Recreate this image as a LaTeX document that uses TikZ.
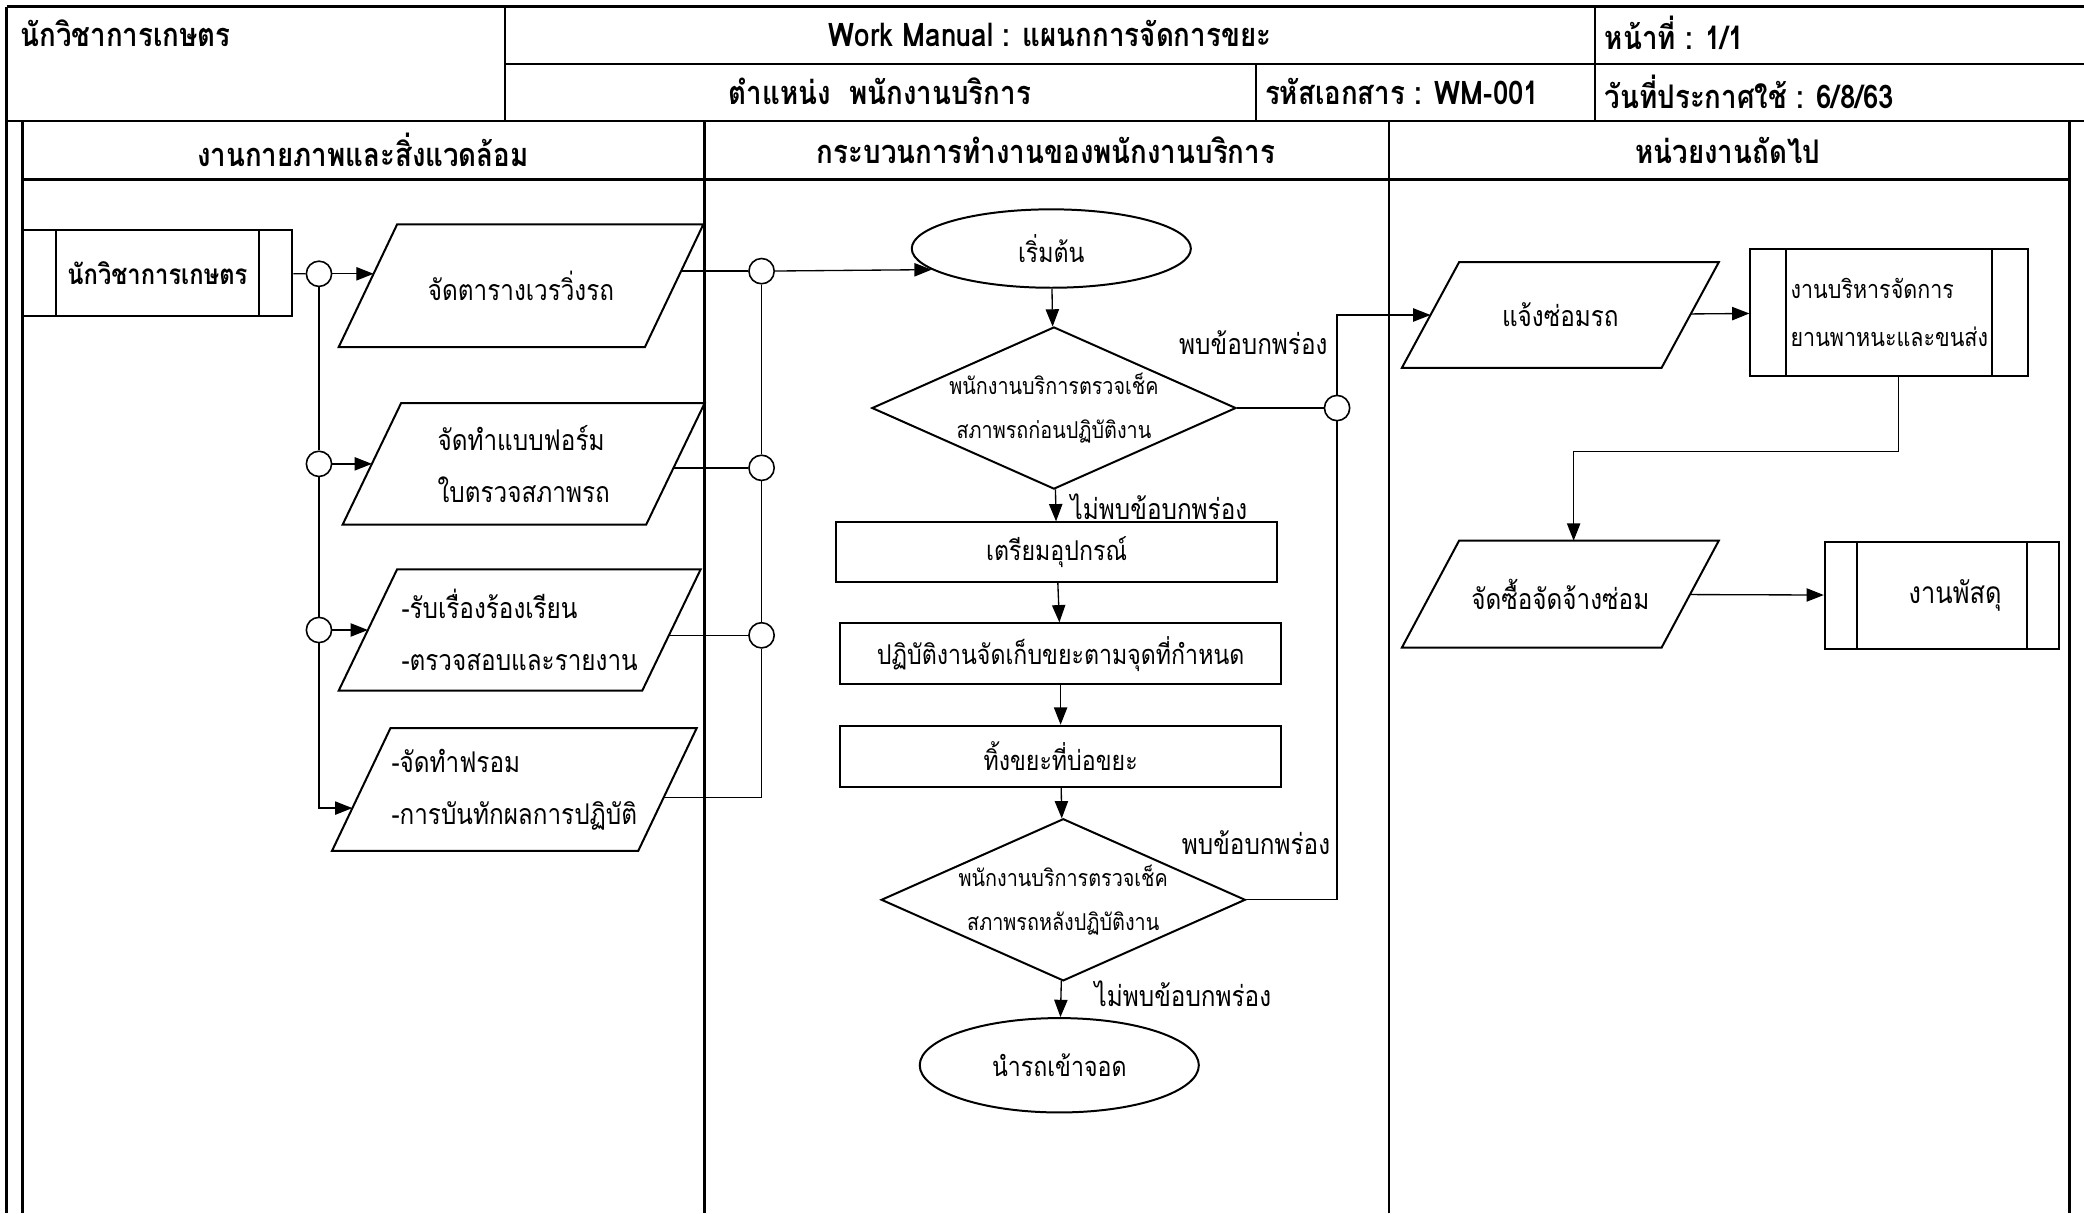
\documentclass[tikz,border=0pt]{standalone}
\usepackage{fontspec}
\setmainfont{Loma}[Script=Thai, FakeStretch=0.85]
\usetikzlibrary{
    arrows.meta,
    shapes.geometric,
    calc
}

\begin{document}
\begin{tikzpicture}[
    x=1pt, y=-1pt,
    frame/.style={line width=1.8pt},
    lanetitle/.style={font=\fontsize{24.5}{26}\selectfont\bfseries},
    headtext/.style={font=\fontsize{24.5}{26}\selectfont\bfseries},
    data/.style={rectangle, inner sep=1pt, align=left, font=\fontsize{21.5}{39}\selectfont,
        append after command={\pgfextra{\draw[line width=1.5pt]
            ([xshift=#1]\tikzlastnode.north west) -- ([xshift=#1]\tikzlastnode.north east)
            -- ([xshift=-#1]\tikzlastnode.south east) -- ([xshift=-#1]\tikzlastnode.south west) -- cycle;}}},
    data/.default=22pt,
    process/.style={rectangle, draw, line width=1.5pt, minimum width=332pt, font=\fontsize{20.5}{22}\selectfont},
    subproc/.style={rectangle, draw, line width=1.5pt, align=left, font=\fontsize{19}{36}\selectfont,
        path picture={\draw[line width=1.5pt]
            ([xshift=#1]path picture bounding box.north west) -- ([xshift=#1]path picture bounding box.south west)
            ([xshift=-#1]path picture bounding box.north east) -- ([xshift=-#1]path picture bounding box.south east);}},
    subproc/.default=25pt,
    decision/.style={diamond, draw, line width=1.5pt, aspect=2.25, minimum width=274pt, minimum height=122pt,
        inner sep=-8pt, align=center, font=\fontsize{17.5}{33}\selectfont},
    terminal/.style={ellipse, draw, line width=1.5pt, minimum width=210pt, font=\fontsize{20.5}{22}\selectfont},
    junction/.style={ellipse, draw, line width=1.2pt, fill=white, minimum width=19pt, minimum height=19pt, inner sep=0pt},
    note/.style={font=\fontsize{21.5}{24}\selectfont},
    line/.style={line width=1pt},
    arrow/.style={line width=1pt, -{Triangle[length=13pt, width=10pt]}}
]
\useasboundingbox (0,0) rectangle (1568,913);

% === HEADER ===
\draw[frame] (5,5) -- (1568,5);
\draw[frame] (380,48) -- (1568,48);
\draw[frame] (5,91) -- (1568,91);
\draw[frame] (5,5) -- (5,913);
\draw[frame] (380,5) -- (380,91);
\draw[frame] (1200,5) -- (1200,91);
\draw[frame] (945,48) -- (945,91);

\node[headtext, anchor=west] (hdept) at (12,25) {นักวิชาการเกษตร};
\node[headtext] (htitle) at (790,25) {Work Manual : แผนกการจัดการขยะ};
\node[headtext, anchor=west] (hpage) at (1204,25) {หน้าที่ : 1/1};
\node[headtext] (hpos) at (662,69) {ตำแหน่ง\ \ พนักงานบริการ};
\node[headtext] (hcode) at (1055,69) {รหัสเอกสาร : WM-001};
\node[headtext, anchor=west] (hdate) at (1204,69) {วันที่ประกาศใช้ : 6/8/63};

% === SWIMLANES ===
\draw[frame] (17,91) -- (17,913);
\draw[frame] (530,91) -- (530,913);
\draw[frame] (1045,91) -- (1045,913);
\draw[frame] (1557,91) -- (1557,913);
\draw[frame] (17,135) -- (1557,135);

\node[lanetitle] (lane1) at (273,113) {งานกายภาพและสิ่งแวดล้อม};
\node[lanetitle] (lane2) at (787,113) {กระบวนการทำงานของพนักงานบริการ};
\node[lanetitle] (lane3) at (1300,113) {หน่วยงานถัดไป};

% === LANE 1 ===
\node[subproc, minimum width=203pt, minimum height=65pt, font=\fontsize{21}{24}\selectfont\bfseries] (agri) at (118.5,205.5) {นักวิชาการเกษตร};

\node[data, minimum width=230pt, minimum height=92pt] (roster) at (392,215) {จัดตารางเวรวิ่งรถ};
\node[data, minimum width=228pt, minimum height=91pt] (form) at (394,349) {จัดทำแบบฟอร์ม\\ใบตรวจสภาพรถ};
\node[data, minimum width=228pt, minimum height=91pt] (complaint) at (391,474) {-รับเรื่องร้องเรียน\\-ตรวจสอบและรายงาน};
\node[data, minimum width=230pt, minimum height=92pt] (record) at (387,594) {-จัดทำฟรอม\\-การบันทักผลการปฏิบัติ};

\node[junction] (c1) at (240,206) {};
\node[junction] (c2) at (240,349) {};
\node[junction] (c3) at (240,474) {};
\node[junction] (d1) at (573,204) {};
\node[junction] (d2) at (573,352) {};
\node[junction] (d3) at (573,478) {};

\draw[line] (agri) -- (c1);
\draw[line] (c1) -- (c2) -- (c3);
\draw[arrow] (c1) -- ($(c1 -| roster.west)+(4.3,0)$);
\draw[arrow] (c2) -- (form);
\draw[arrow] (c3) -- (complaint);
\draw[arrow] (c3) |- ($(record.west)+(-6.7,14)$);

\draw[line] ($(d1 -| roster.east)+(5.3,0)$) -- (d1);
\draw[line] ($(d2 -| form.east)+(-1.4,0)$) -- (d2);
\draw[line] ($(d3 -| complaint.east)+(-1.9,0)$) -- (d3);
\draw[line] ($(record.east)+(-2.9,6)$) -| (d3);
\draw[line] (d1) -- (d2) -- (d3);

% === LANE 2 ===
\node[terminal, minimum height=59pt] (start) at (791,187) {เริ่มต้น};
\node[decision] (chk1) at (793,307) {พนักงานบริการตรวจเช็ค\\สภาพรถก่อนปฏิบัติงาน};
\node[process, minimum height=45pt] (prep) at (795,415.5) {เตรียมอุปกรณ์};
\node[process, minimum height=46pt] (collect) at (798,492) {ปฏิบัติงานจัดเก็บขยะตามจุดที่กำหนด};
\node[process, minimum height=46pt] (dump) at (798,569) {ทิ้งขยะที่บ่อขยะ};
\node[decision] (chk2) at (800,677) {พนักงานบริการตรวจเช็ค\\สภาพรถหลังปฏิบัติงาน};
\node[terminal, minimum height=71pt] (park) at (797,801.5) {นำรถเข้าจอด};

\node[junction] (e1) at (1006,307) {};

\draw[arrow] (d1) -- (start.190);
\draw[arrow] (start) -- (chk1);
\draw[arrow] (chk1) -- (prep);
\draw[arrow] (prep) -- (collect);
\draw[arrow] (collect) -- (dump);
\draw[arrow] (dump) -- (chk2);
\draw[arrow] (chk2) -- (park);
\draw[line] (chk1) -- (e1);
\draw[line] (chk2) -| (e1);

\node[note] (found1) at (943,258) {พบข้อบกพร่อง};
\node[note] (ok1) at (872,381) {ไม่พบข้อบกพร่อง};
\node[note] (found2) at (945,634) {พบข้อบกพร่อง};
\node[note] (ok2) at (890,748) {ไม่พบข้อบกพร่อง};

% === LANE 3 ===
\node[data=21.5pt, minimum width=195pt, minimum height=79pt] (repair) at (1174,237) {แจ้งซ่อมรถ};
\node[subproc=27pt, minimum width=209pt, minimum height=96pt] (fleet) at (1421.5,235) {งานบริหารจัดการ\\ยานพาหนะและขนส่ง};
\node[data=21.5pt, minimum width=195pt, minimum height=80pt] (buy) at (1174,447) {จัดซื้อจัดจ้างซ่อม};
\node[subproc=24pt, minimum width=176pt, minimum height=80pt, font=\fontsize{22.5}{24}\selectfont] (supply) at (1461,448) {\hspace*{20pt}งานพัสดุ};

\draw[arrow] (e1) |- (repair);
\draw[arrow] (repair) -- (fleet);
\draw[arrow] ([xshift=7pt]fleet.south) -- ++(0,56) -| ([xshift=10pt]buy.north);
\draw[arrow] (buy) -- (supply);

\end{tikzpicture}
\end{document}
